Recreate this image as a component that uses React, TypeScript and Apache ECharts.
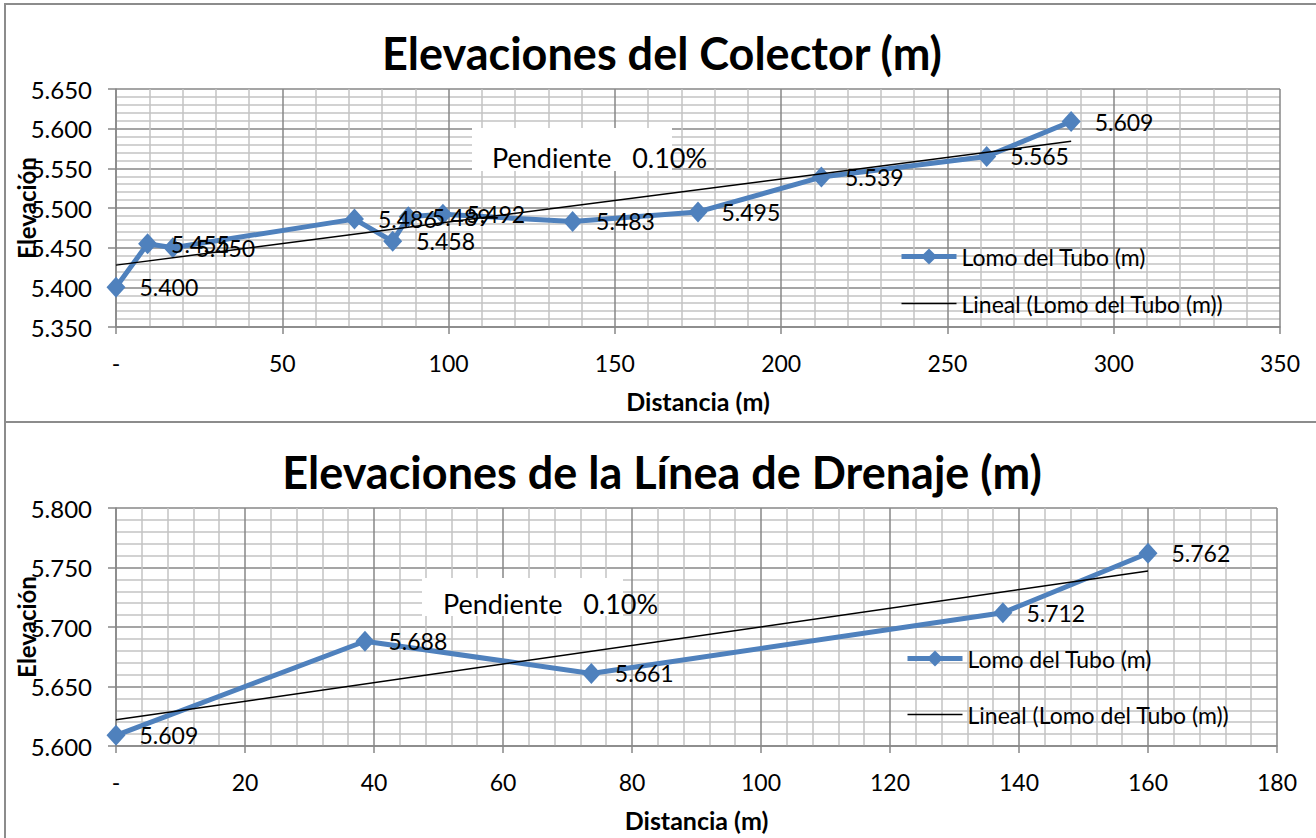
import React, { useEffect, useRef } from "react";
import * as echarts from "echarts";

const FONT = "Lato, 'Noto Sans', sans-serif";

// Chart 1: Elevaciones del Colector
const colTitle = "Elevaciones del Colector (m)";
const colDist = [0, 9.5, 17.1, 71.7, 83.2, 87.9, 98.3, 137.3, 175.0, 212.1, 261.8, 287.2];
const colElev = [5.4, 5.455, 5.45, 5.486, 5.458, 5.489, 5.492, 5.483, 5.495, 5.539, 5.565, 5.609];
const colTrendDist = [0, 287.2];
const colTrendElev = [5.428, 5.584];

// Chart 2: Elevaciones de la Línea de Drenaje
const drnTitle = "Elevaciones de la Línea de Drenaje (m)";
const drnDist = [0, 38.6, 73.7, 137.5, 160];
const drnElev = [5.609, 5.688, 5.661, 5.712, 5.762];
const drnTrendDist = [0, 160];
const drnTrendElev = [5.622, 5.747];

const seriesName = "Lomo del Tubo (m)";
const trendName = "Lineal (Lomo del Tubo (m))";
const slopeText = "Pendiente   0.10%";
const yName = "Elevación";
const xName = "Distancia (m)";

const BLUE = "#4F81BD";
const MAJOR = "#878787";
const MINOR = "#c3c3c3";

function xAxis(gridIndex: number, max: number, interval: number) {
  return {
    type: "value",
    gridIndex,
    min: 0,
    max,
    interval,
    name: xName,
    nameLocation: "middle",
    nameGap: 61,
    nameMoveOverlap: false,
    nameTextStyle: { fontFamily: FONT, fontSize: 25, fontWeight: "bold", color: "#000" },
    axisLine: { show: true, onZero: false, lineStyle: { color: MAJOR, width: 1.5 } },
    axisTick: { show: true, length: 7, lineStyle: { color: MAJOR, width: 1.5 } },
    axisLabel: {
      fontFamily: FONT,
      fontSize: 23,
      color: "#000",
      margin: 24,
      formatter: (v: number) => (v === 0 ? "-" : String(v)),
    },
    splitLine: { show: true, lineStyle: { color: MAJOR, width: 1.5 } },
    minorTick: { show: false, splitNumber: 5 },
    minorSplitLine: { show: true, lineStyle: { color: MINOR, width: 1.5 } },
  };
}

function yAxis(gridIndex: number, min: number, max: number) {
  return {
    type: "value",
    gridIndex,
    min,
    max,
    interval: 0.05,
    name: yName,
    nameLocation: "middle",
    nameRotate: 90,
    nameGap: 90,
    nameMoveOverlap: false,
    nameTextStyle: { fontFamily: FONT, fontSize: 24, fontWeight: "bold", color: "#000", verticalAlign: "middle" },
    axisLine: { show: true, onZero: false, lineStyle: { color: MAJOR, width: 1.5 } },
    axisTick: { show: true, length: 8, lineStyle: { color: MAJOR, width: 1.5 } },
    axisLabel: {
      fontFamily: FONT,
      fontSize: 24,
      color: "#000",
      margin: 24,
      formatter: (v: number) => v.toFixed(3),
    },
    splitLine: { show: true, lineStyle: { color: MAJOR, width: 1.5 } },
    minorTick: { show: false, splitNumber: 5 },
    minorSplitLine: { show: true, lineStyle: { color: MINOR, width: 1.5 } },
  };
}

function mainSeries(idx: number, xs: number[], ys: number[]) {
  return {
    type: "line",
    name: seriesName,
    xAxisIndex: idx,
    yAxisIndex: idx,
    data: xs.map((d, i) => [d, ys[i]]),
    symbol: "diamond",
    symbolSize: [19, 21],
    lineStyle: { color: BLUE, width: 5 },
    itemStyle: { color: BLUE },
    label: {
      show: true,
      position: "right",
      distance: 14,
      fontFamily: FONT,
      fontSize: 23,
      color: "#000",
      formatter: (p: any) => p.value[1].toFixed(3),
    },
    z: 3,
  };
}

function trendSeries(idx: number, xs: number[], ys: number[]) {
  return {
    type: "line",
    name: trendName,
    xAxisIndex: idx,
    yAxisIndex: idx,
    data: xs.map((d, i) => [d, ys[i]]),
    symbol: "none",
    itemStyle: { color: "#000" },
    lineStyle: { color: "#000", width: 1.5 },
    z: 4,
  };
}

function legend(left: number, top: number, gap: number) {
  return {
    orient: "vertical",
    left,
    top,
    padding: 0,
    itemWidth: 55,
    itemHeight: 20,
    itemGap: gap,
    textStyle: { fontFamily: FONT, fontSize: 23, color: "#000" },
    data: [
      { name: seriesName, lineStyle: { width: 5 } },
      { name: trendName, lineStyle: { width: 1.5, color: "#000" }, itemStyle: { opacity: 0, color: "rgba(0,0,0,0)", borderWidth: 0 } },
    ],
  };
}

export default function App() {
  const ref = useRef<HTMLDivElement>(null);
  useEffect(() => {
    document.body.style.margin = "0";
    const chart = echarts.init(ref.current!, null, { renderer: "svg" });
    const titleStyle = { fontFamily: FONT, fontSize: 45, fontWeight: "bold", color: "#000" };
    chart.setOption({
      animation: false,
      backgroundColor: "#fff",
      title: [
        { text: colTitle, left: 662, textAlign: "center", top: 30, padding: 0, textStyle: titleStyle },
        { text: drnTitle, left: 662, textAlign: "center", top: 449, padding: 0, textStyle: titleStyle },
      ],
      grid: [
        { left: 116, right: 36, top: 89, height: 238, outerBoundsMode: "none", containLabel: false },
        { left: 116, right: 39, top: 508, height: 238, outerBoundsMode: "none", containLabel: false },
      ],
      xAxis: [xAxis(0, 350, 50), xAxis(1, 180, 20)],
      yAxis: [yAxis(0, 5.35, 5.65), yAxis(1, 5.6, 5.8)],
      legend: [legend(899, 245, 24), legend(905, 647, 33)],
      series: [
        mainSeries(0, colDist, colElev),
        trendSeries(0, colTrendDist, colTrendElev),
        mainSeries(1, drnDist, drnElev),
        trendSeries(1, drnTrendDist, drnTrendElev),
      ],
      graphic: [
        { type: "rect", silent: true, z: 100, shape: { x: 5, y: 4, width: 1330, height: 418 }, style: { fill: "none", stroke: "#8c8c8c", lineWidth: 2 } },
        { type: "rect", silent: true, z: 100, shape: { x: 5, y: 422, width: 1330, height: 440 }, style: { fill: "none", stroke: "#8c8c8c", lineWidth: 2 } },
        { type: "rect", silent: true, z: 5, shape: { x: 472, y: 128, width: 200, height: 43 }, style: { fill: "#fff" } },
        { type: "text", silent: true, z: 6, x: 492, y: 157, style: { text: slopeText, fontFamily: FONT, fontSize: 27, fill: "#000", verticalAlign: "middle" } },
        { type: "rect", silent: true, z: 5, shape: { x: 422, y: 578, width: 201, height: 38 }, style: { fill: "#fff" } },
        { type: "text", silent: true, z: 6, x: 443, y: 603, style: { text: slopeText, fontFamily: FONT, fontSize: 27, fill: "#000", verticalAlign: "middle" } },
      ],
    });
    return () => chart.dispose();
  }, []);
  return <div ref={ref} style={{ width: 1316, height: 838, background: "#fff" }} />;
}
